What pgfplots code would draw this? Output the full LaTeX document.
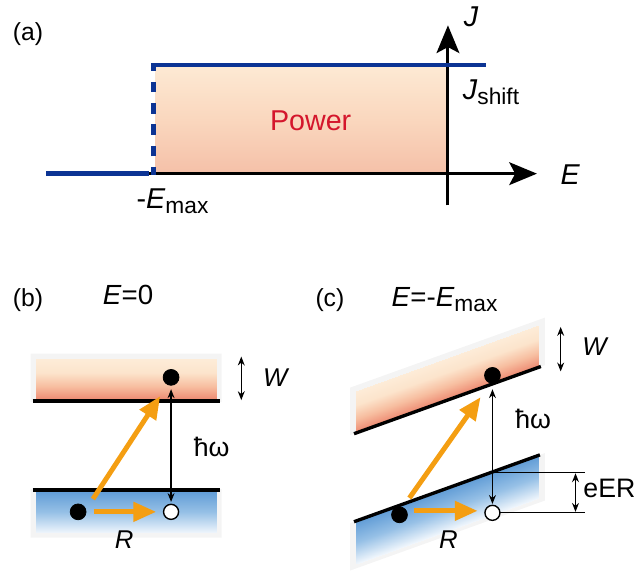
\documentclass[border=0pt]{standalone}
\usepackage{pgfplots}
\pgfplotsset{compat=1.18}
\usepackage{fontspec}
\setmainfont{Liberation Sans}
\usetikzlibrary{arrows.meta}
\definecolor{jblue}{RGB}{12,52,148}
\definecolor{porange}{RGB}{244,158,18}
\definecolor{pred}{RGB}{212,22,44}
\definecolor{glow}{RGB}{244,244,244}
\newcommand{\fs}[1]{\fontsize{#1}{#1}\selectfont}
\pgfplotsset{
  colormap={pw}{rgb255=(245,192,168) rgb255=(250,215,190) rgb255=(253,234,212)},
  colormap={cb}{rgb255=(237,136,112) rgb255=(247,190,160) rgb255=(252,228,204) rgb255=(253,236,216)},
  colormap={vb}{rgb255=(96,156,214) rgb255=(150,192,230) rgb255=(240,246,252)},
}
\begin{document}
\begin{tikzpicture}
\begin{axis}[
  scale only axis, width=321pt, height=287pt,
  xmin=0, xmax=642, ymin=0, ymax=574, y dir=reverse,
  hide axis, clip=false, enlargelimits=false,
  point meta min=0, point meta max=1,
]
\addplot[draw=none, forget plot] coordinates {(0,0) (642,574)};
% ---------------- panel (a)
\addplot[patch, patch type=rectangle, shader=interp, colormap name=pw, point meta=explicit]
  coordinates {(157,172) [0] (453,172) [0] (453,62) [1] (157,62) [1]};
\addplot[black, line width=1.5pt, -{Stealth[length=14pt,width=11.5pt,inset=3pt]}]
  coordinates {(150,172) (543,172)};
\addplot[black, line width=1.5pt, -{Stealth[length=14pt,width=11.5pt,inset=3pt]}]
  coordinates {(453,204) (453,22)};
\addplot[jblue, line width=2.4pt] coordinates {(47,172) (151,172)};
\addplot[jblue, line width=2.7pt, dash pattern=on 5.3pt off 5.5pt, dash phase=1.5pt]
  coordinates {(155.5,173) (155.5,64)};
\addplot[jblue, line width=2.4pt] coordinates {(153,62) (491,62)};
\node[anchor=base west, font=\fs{12.5}] at (axis cs:6,37) {(a)};
\node[anchor=base west, font=\fs{14.5}, text=pred] at (axis cs:266,128) {Power};
\node[anchor=base west, font=\fs{14.5}] at (axis cs:462,23) {\textit{J}};
\node[anchor=base west, font=\fs{14.5}] at (axis cs:461,97) {\textit{J}\raisebox{-2.5pt}{\fs{11.5}shift}};
\node[anchor=base west, font=\fs{14.5}] at (axis cs:560,183) {\textit{E}};
\node[anchor=base west, font=\fs{14.5}] at (axis cs:131,207) {-\textit{E}\raisebox{-2.5pt}{\fs{11.5}max}};
% ---------------- panel (b)
\node[anchor=base west, font=\fs{12.5}] at (axis cs:6,306) {(b)};
\node[anchor=base west, font=\fs{14}] at (axis cs:97,304) {\textit{E}=0};
\addplot[draw=none, fill=glow] coordinates {(31,354) (224,354) (224,403) (31,403) (31,354)};
\addplot[draw=none, fill=glow] coordinates {(31,491) (224,491) (224,540) (31,540) (31,491)};
\addplot[patch, patch type=rectangle, shader=interp, colormap name=cb, point meta=explicit]
  coordinates {(36,401) [0] (219,401) [0] (219,359) [1] (36,359) [1]};
\addplot[patch, patch type=rectangle, shader=interp, colormap name=vb, point meta=explicit]
  coordinates {(36,493) [0] (219,493) [0] (219,535) [1] (36,535) [1]};
\addplot[black, line width=1.7pt] coordinates {(33,402) (222,402)};
\addplot[black, line width=1.7pt] coordinates {(33,492) (222,492)};
\addplot[black, line width=0.6pt, {Stealth[length=4.5pt,width=3.5pt]}-{Stealth[length=4.5pt,width=3.5pt]}]
  coordinates {(173,390) (173,504)};
\addplot[black, line width=0.6pt, {Stealth[length=4.5pt,width=3.5pt]}-{Stealth[length=4.5pt,width=3.5pt]}]
  coordinates {(244,357) (244,401)};
\addplot[porange, line width=2.5pt, -{Triangle[length=11.5pt,width=9.5pt]}]
  coordinates {(94,501) (162,397)};
\addplot[porange, line width=2.5pt, -{Triangle[length=11.5pt,width=9.5pt]}]
  coordinates {(95,514) (158,514)};
\addplot[only marks, mark=*, mark size=4pt, black] coordinates {(173,378) (79,514)};
\addplot[only marks, mark=*, mark size=3.8pt, mark options={fill=white, draw=black, line width=0.7pt}]
  coordinates {(173,514)};
\node[anchor=base west, font=\fs{13}] at (axis cs:259,387) {\textit{W}};
\node[anchor=base west, font=\fs{13.5}] at (axis cs:189,458) {ħω};
\node[anchor=base west, font=\fs{13}] at (axis cs:109,551) {\textit{R}};
% ---------------- panel (c)
\node[anchor=base west, font=\fs{12.5}] at (axis cs:312,306) {(c)};
\node[anchor=base west, font=\fs{14}] at (axis cs:389,306) {\textit{E}=-\textit{E}\raisebox{-2.5pt}{\fs{11.5}max}};
\addplot[draw=none, fill=glow] coordinates {(354,436.4) (551,365.6) (551,317.6) (354,388.4) (354,436.4)};
\addplot[draw=none, fill=glow] coordinates {(354,525.4) (551,454.6) (551,502.6) (354,573.4) (354,525.4)};
\addplot[patch, patch type=rectangle, shader=interp, colormap name=cb, point meta=explicit]
  coordinates {(360,434.3) [0] (545,367.7) [0] (545,324.7) [1] (360,391.3) [1]};
\addplot[patch, patch type=rectangle, shader=interp, colormap name=vb, point meta=explicit]
  coordinates {(360,523.3) [0] (545,456.7) [0] (545,499.7) [1] (360,566.3) [1]};
\addplot[black, line width=1.7pt] coordinates {(358,435) (547,367)};
\addplot[black, line width=1.7pt] coordinates {(358,524) (546,456.4)};
\addplot[black, line width=0.6pt] coordinates {(498,474) (592,474)};
\addplot[black, line width=0.6pt] coordinates {(506,515) (592,515)};
\addplot[black, line width=0.6pt, {Stealth[length=4.5pt,width=3.5pt]}-{Stealth[length=4.5pt,width=3.5pt]}]
  coordinates {(498,390) (498,506)};
\addplot[black, line width=0.6pt, {Stealth[length=4.5pt,width=3.5pt]}-{Stealth[length=4.5pt,width=3.5pt]}]
  coordinates {(567,327) (567,372)};
\addplot[black, line width=0.6pt, {Stealth[length=4.5pt,width=3.5pt]}-{Stealth[length=4.5pt,width=3.5pt]}]
  coordinates {(582,475) (582,514)};
\addplot[porange, line width=2.5pt, -{Triangle[length=11.5pt,width=9.5pt]}]
  coordinates {(414,500) (486,398)};
\addplot[porange, line width=2.5pt, -{Triangle[length=11.5pt,width=9.5pt]}]
  coordinates {(419,513) (483,513)};
\addplot[only marks, mark=*, mark size=4pt, black] coordinates {(498,376) (404,517)};
\addplot[only marks, mark=*, mark size=3.8pt, mark options={fill=white, draw=black, line width=0.7pt}]
  coordinates {(498,515)};
\node[anchor=base west, font=\fs{13}] at (axis cs:582,356) {\textit{W}};
\node[anchor=base west, font=\fs{13.5}] at (axis cs:514,430) {ħω};
\node[anchor=base west, font=\fs{13}] at (axis cs:437,551) {\textit{R}};
\node[anchor=base west, font=\fs{13.5}] at (axis cs:583,499) {eER};
\end{axis}
\end{tikzpicture}
\end{document}
